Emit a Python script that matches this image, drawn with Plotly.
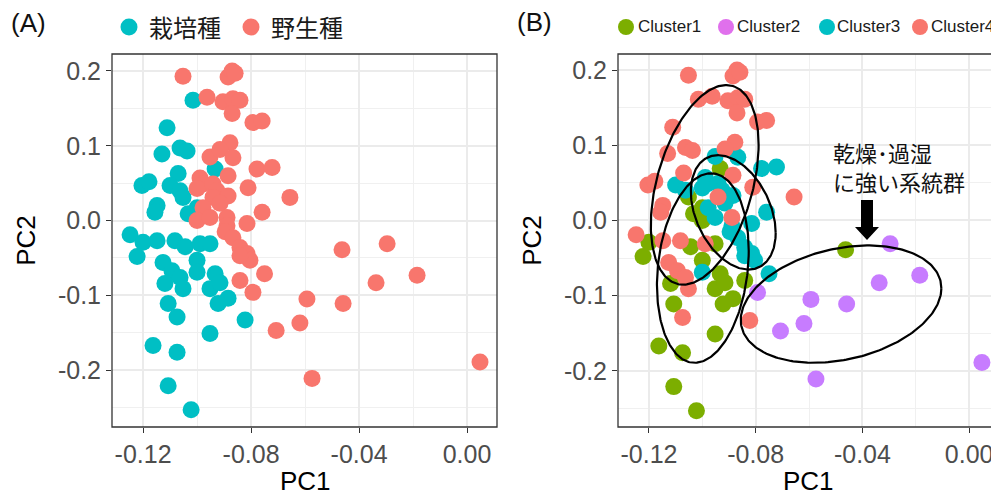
import numpy as np
import plotly.graph_objects as go

# ---------------- data ----------------
pc1 = [-0.1052, -0.0885, -0.0870, -0.0859, -0.0963, -0.1015, -0.0904, -0.0867, -0.0841, -0.0870,
       -0.0793, -0.0759, -0.1111, -0.0878, -0.1130, -0.1063, -0.1037, -0.0952, -0.0915, -0.0867,
       -0.0778, -0.0722, -0.0885, -0.0933, -0.1070, -0.1204, -0.1178, -0.1100, -0.1063, -0.1052,
       -0.0989, -0.0978, -0.1000, -0.0941, -0.0926, -0.0941, -0.0811, -0.0656, -0.0885, -0.0978,
       -0.0915, -0.1148, -0.1156, -0.1000, -0.1033, -0.1000, -0.0952, -0.0889, -0.0759, -0.0815,
       -0.0889, -0.0896, -0.1248, -0.1200, -0.1148, -0.1082, -0.1044, -0.0989, -0.0952, -0.1222,
       -0.0867, -0.0841, -0.0815, -0.0804, -0.0841, -0.1126, -0.1093, -0.1119, -0.1063, -0.1052,
       -0.1000, -0.1000, -0.0933, -0.0952, -0.0915, -0.0885, -0.0922, -0.0841, -0.0793, -0.0750,
       -0.1107, -0.1074, -0.0822, -0.0952, -0.1163, -0.1074, -0.1107, -0.1022, -0.0463, -0.0296,
       -0.0185, -0.0337, -0.0593, -0.0459, -0.0619, -0.0707, -0.0574, 0.0048]
pc2 = [0.193, 0.192, 0.200, 0.197, 0.165, 0.161, 0.159, 0.163, 0.161, 0.143,
       0.131, 0.133, 0.124, 0.104, 0.089, 0.097, 0.093, 0.085, 0.095, 0.084,
       0.069, 0.071, 0.060, 0.069, 0.063, 0.047, 0.052, 0.047, 0.040, 0.031,
       0.057, 0.049, 0.043, 0.049, 0.040, 0.031, 0.044, 0.031, 0.033, 0.017,
       0.023, 0.020, 0.011, 0.017, 0.009, 0.000, 0.004, 0.004, 0.011, -0.004,
       -0.007, -0.015, -0.019, -0.029, -0.027, -0.027, -0.035, -0.031, -0.031, -0.048,
       -0.023, -0.036, -0.044, -0.053, -0.047, -0.056, -0.067, -0.084, -0.076, -0.091,
       -0.053, -0.069, -0.071, -0.091, -0.083, -0.104, -0.111, -0.080, -0.096, -0.071,
       -0.111, -0.129, -0.133, -0.151, -0.167, -0.176, -0.221, -0.253, -0.039, -0.031,
       -0.073, -0.083, -0.105, -0.111, -0.137, -0.147, -0.211, -0.189]
# 0 = 栽培種 (cultivated), 1 = 野生種 (wild)
germ = [1, 1, 1, 1, 1, 0, 1, 1, 1, 1,
        1, 1, 0, 1, 0, 0, 0, 1, 1, 1,
        1, 1, 1, 0, 0, 0, 0, 0, 0, 0,
        1, 1, 1, 1, 1, 1, 1, 1, 1, 1,
        1, 0, 0, 0, 0, 1, 1, 1, 1, 1,
        1, 1, 0, 0, 0, 0, 0, 0, 0, 0,
        1, 1, 1, 1, 1, 0, 0, 0, 0, 0,
        0, 0, 0, 0, 0, 0, 0, 1, 1, 1,
        0, 0, 0, 0, 0, 0, 0, 0, 1, 1,
        1, 1, 1, 1, 1, 1, 1, 1]
cluster = [4, 4, 4, 4, 4, 4, 4, 4, 4, 4,
           4, 4, 4, 4, 4, 4, 4, 3, 4, 3,
           3, 3, 4, 1, 4, 4, 4, 3, 3, 1,
           3, 3, 3, 3, 3, 4, 4, 4, 3, 3,
           3, 4, 4, 1, 1, 1, 3, 4, 3, 3,
           3, 3, 4, 1, 4, 4, 1, 4, 1, 1,
           3, 3, 3, 3, 3, 4, 4, 1, 4, 4,
           1, 3, 1, 1, 1, 1, 1, 1, 2, 3,
           1, 4, 4, 1, 1, 1, 1, 1, 1, 2,
           2, 2, 2, 2, 2, 2, 2, 2]

germ_names = ["栽培種", "野生種"]
germ_colors = ["#00BFC4", "#F8766D"]
cluster_names = ["Cluster1", "Cluster2", "Cluster3", "Cluster4"]
cluster_colors = ["#7CAE00", "#C77CFF", "#00BFC4", "#F8766D"]
cluster_legend_colors = ["#7CAE00", "#E070EC", "#00BFC4", "#F8766D"]

# ellipse parameters (centre, half extents, correlation) per cluster
ell_cx = [-0.0998, -0.0480, -0.0884, -0.0991]
ell_cy = [-0.0633, -0.1113, 0.0107, 0.0473]
ell_rx = [0.0172, 0.0376, 0.0159, 0.0202]
ell_ry = [0.126, 0.078, 0.076, 0.1327]
ell_rho = [0.18, 0.27, -0.36, 0.40]

x_ticks = [-0.12, -0.08, -0.04, 0.00]
x_ticktext = ["-0.12", "-0.08", "-0.04", "0.00"]
y_ticks = [-0.2, -0.1, 0.0, 0.1, 0.2]
y_ticktext = ["-0.2", "-0.1", "0.0", "0.1", "0.2"]
x_title = "PC1"
y_title = "PC2"

annot_text = "乾燥･過湿<br>に強い系統群"

# ---------------- figure ----------------
# the page body has an 8px margin, so the figure is laid out 8px smaller
OFF = 8
W, H = 999 - OFF, 496 - OFF

def fx(px):
    return (px - OFF) / W

def fy(py):
    return (H - (py - OFF)) / H

pc1 = np.array(pc1); pc2 = np.array(pc2)
germ = np.array(germ); cluster = np.array(cluster)

fig = go.Figure()
MS = 17
for g in [0, 1]:
    m = germ == g
    fig.add_trace(go.Scatter(x=pc1[m], y=pc2[m], mode="markers", name=germ_names[g],
                             marker=dict(size=MS, color=germ_colors[g], line=dict(width=0)),
                             xaxis="x", yaxis="y", showlegend=False))
for c in [1, 2, 3, 4]:
    m = cluster == c
    fig.add_trace(go.Scatter(x=pc1[m], y=pc2[m], mode="markers", name=cluster_names[c - 1],
                             marker=dict(size=MS, color=cluster_colors[c - 1], line=dict(width=0)),
                             xaxis="x2", yaxis="y2", showlegend=False))
t = np.linspace(0, 2 * np.pi, 241)
for i in range(4):
    ex = ell_cx[i] + ell_rx[i] * np.cos(t)
    ey = ell_cy[i] + ell_ry[i] * (ell_rho[i] * np.cos(t) + np.sqrt(1 - ell_rho[i] ** 2) * np.sin(t))
    fig.add_trace(go.Scatter(x=ex, y=ey, mode="lines", line=dict(color="black", width=2.2),
                             xaxis="x2", yaxis="y2", showlegend=False, hoverinfo="skip"))

FONT = "Liberation Sans, Arial, sans-serif"
CJK = "Noto Sans CJK JP, sans-serif"
ydom = [fy(427), fy(54)]

def xaxis(domain, rng, anchor):
    return dict(domain=domain, range=rng, anchor=anchor, tickmode="array", tickvals=x_ticks,
                ticktext=x_ticktext, ticks="outside", ticklen=5, tickwidth=1.3, tickcolor="#333333",
                tickfont=dict(family=FONT, size=25, color="#4D4D4D"),
                showgrid=True, gridcolor="#EBEBEB", gridwidth=1.5, zeroline=False, showline=False,
                minor=dict(tickmode="linear", tick0=0, dtick=0.02, showgrid=True,
                           gridcolor="#F0F0F0", gridwidth=1, ticks=""))

def yaxis(rng, anchor):
    return dict(domain=ydom, range=rng, anchor=anchor, tickmode="array", tickvals=y_ticks,
                ticktext=y_ticktext, ticks="outside", ticklen=5, tickwidth=1.3, tickcolor="#333333",
                tickfont=dict(family=FONT, size=25, color="#4D4D4D"),
                showgrid=True, gridcolor="#EBEBEB", gridwidth=1.5, zeroline=False, showline=False,
                minor=dict(tickmode="linear", tick0=0, dtick=0.05, showgrid=True,
                           gridcolor="#F0F0F0", gridwidth=1, ticks=""),
                title=dict(text=y_title, font=dict(family=FONT, size=26, color="black"), standoff=14))

fig.update_layout(
    width=W, height=H, margin=dict(l=0, r=0, t=0, b=0),
    paper_bgcolor="white", plot_bgcolor="white",
    xaxis=xaxis([fx(112), fx(497)], [-0.1315, 0.0111], "y"),
    yaxis=yaxis([-0.276, 0.2227], "x"),
    xaxis2=xaxis([fx(618), 1.0], [-0.1316, 0.0112], "y2"),
    yaxis2=yaxis([-0.2747, 0.2213], "x2"),
)

shapes = []
# panel borders
shapes.append(dict(type="rect", xref="x domain", yref="y domain", x0=0, x1=1, y0=0, y1=1,
                   line=dict(color="#333333", width=1.3), layer="above"))
shapes.append(dict(type="rect", xref="x2 domain", yref="y2 domain", x0=0, x1=1.03, y0=0, y1=1,
                   line=dict(color="#333333", width=1.3), layer="above"))

def pcircle(px, py, color, r=8.5):
    return dict(type="circle", xref="paper", yref="paper", xsizemode="pixel", ysizemode="pixel",
                xanchor=fx(px), yanchor=fy(py), x0=-r, x1=r, y0=-r, y1=r,
                fillcolor=color, line=dict(width=0))

annotations = []
def ptext(px, py, text, size, color="#1A1A1A", family=FONT, xanchor="left", align="left"):
    annotations.append(dict(xref="paper", yref="paper", x=fx(px), y=fy(py), text=text,
                            showarrow=False, xanchor=xanchor, yanchor="middle", align=align,
                            font=dict(family=family, size=size, color=color)))

# x-axis titles
ptext(305, 481, x_title, 26, color="black", xanchor="center", align="center")
ptext(808, 481, x_title, 26, color="black", xanchor="center", align="center")

# panel A legend
ptext(9, 23, "(A)", 26, color="#111111")
leg_a_circle = [129, 251]
leg_a_text = [147, 269]
for i in range(2):
    shapes.append(pcircle(leg_a_circle[i], 27, germ_colors[i]))
    ptext(leg_a_text[i], 27, germ_names[i], 24, family=CJK)

# panel B legend
ptext(515, 22, "(B)", 26, color="#111111")
leg_b_circle = [626, 726, 827, 920]
leg_b_text = [636, 735, 835, 929]
for i in range(4):
    shapes.append(pcircle(leg_b_circle[i], 27, cluster_legend_colors[i], r=8))
    ptext(leg_b_text[i], 27, cluster_names[i], 17)

# annotation text + arrow
ptext(831, 167, annot_text, 22, color="#111111", family=CJK)
shapes.append(dict(type="path", xref="paper", yref="paper", xsizemode="pixel", ysizemode="pixel",
                   xanchor=fx(867), yanchor=fy(240),
                   path="M -6,40 L 6,40 L 6,13 L 12,13 L 0,0 L -12,13 L -6,13 Z",
                   fillcolor="black", line=dict(width=0)))

fig.update_layout(shapes=shapes, annotations=annotations)
fig.write_html("out.html")
